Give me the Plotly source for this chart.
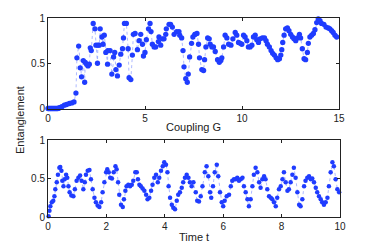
import plotly.graph_objects as go

# Top panel: entanglement vs coupling G
G = [0.00, 0.05, 0.10, 0.15, 0.20, 0.25, 0.30, 0.35, 0.40, 0.45, 0.50, 0.55, 0.58, 0.65,
     0.72, 0.84, 0.96, 1.10, 1.23, 1.34, 1.44, 1.49, 1.58, 1.66, 1.73, 1.82, 1.89, 1.92,
     1.99, 2.06, 2.13, 2.18, 2.23, 2.33, 2.42, 2.47, 2.55, 2.57, 2.64, 2.69, 2.78, 2.84,
     2.90, 2.98, 3.07, 3.08, 3.20, 3.29, 3.38, 3.44, 3.50, 3.58, 3.67, 3.75, 3.84, 3.89,
     3.94, 4.04, 4.13, 4.18, 4.27, 4.35, 4.40, 4.49, 4.61, 4.70, 4.78, 4.87, 4.92, 5.00,
     5.07, 5.18, 5.26, 5.31, 5.38, 5.47, 5.55, 5.69, 5.72, 5.81, 5.90, 5.98, 6.07, 6.10,
     6.24, 6.32, 6.41, 6.50, 6.63, 6.75, 6.79, 6.89, 6.96, 7.01, 7.10, 7.18, 7.23, 7.30,
     7.40, 7.47, 7.57, 7.59, 7.68, 7.76, 7.81, 7.93, 8.02, 8.07, 8.14, 8.23, 8.31, 8.36,
     8.45, 8.53, 8.62, 8.74, 8.83, 8.91, 8.96, 9.05, 9.13, 9.22, 9.31, 9.43, 9.53, 9.65,
     9.73, 9.82, 9.91, 9.99, 10.08, 10.16, 10.25, 10.33, 10.42, 10.51, 10.59, 10.68,
     10.76, 10.85, 10.93, 11.05, 11.16, 11.24, 11.31, 11.41, 11.50, 11.58, 11.67, 11.76,
     11.84, 11.93, 12.00, 12.05, 12.10, 12.17, 12.25, 12.34, 12.42, 12.51, 12.60, 12.68,
     12.77, 12.85, 12.96, 13.02, 13.11, 13.20, 13.28, 13.37, 13.42, 13.50, 13.59, 13.68,
     13.76, 13.85, 13.93, 14.02, 14.10, 14.22, 14.33, 14.45, 14.53, 14.62, 14.70, 14.79,
     14.88]
E_G = [0.0, 0.0, 0.0, 0.0, 0.0, 0.0, 0.0, 0.0, 0.0, 0.0, 0.0, 0.003, 0.007, 0.012,
       0.02, 0.037, 0.044, 0.055, 0.062, 0.073, 0.17, 0.56, 0.69, 0.45, 0.35, 0.53, 0.29, 0.51,
       0.49, 0.47, 0.49, 0.67, 0.64, 0.94, 0.88, 0.70, 0.50, 0.70, 0.70, 0.88, 0.79, 0.71,
       0.81, 0.62, 0.49, 0.64, 0.64, 0.38, 0.57, 0.62, 0.43, 0.36, 0.48, 0.60, 0.66, 0.78,
       0.94, 0.94, 0.66, 0.34, 0.32, 0.59, 0.82, 0.83, 0.65, 0.75, 0.82, 0.71, 0.58, 0.62,
       0.76, 0.88, 0.94, 0.85, 0.71, 0.68, 0.68, 0.74, 0.79, 0.70, 0.77, 0.77, 0.82, 0.88,
       0.93, 0.93, 0.90, 0.82, 0.85, 0.85, 0.81, 0.78, 0.64, 0.46, 0.33, 0.29, 0.38, 0.57,
       0.72, 0.79, 0.82, 0.82, 0.83, 0.71, 0.56, 0.43, 0.42, 0.54, 0.68, 0.78, 0.77, 0.71,
       0.68, 0.68, 0.63, 0.54, 0.51, 0.53, 0.56, 0.68, 0.81, 0.78, 0.71, 0.70, 0.77, 0.84,
       0.81, 0.73, 0.72, 0.71, 0.81, 0.79, 0.75, 0.68, 0.68, 0.70, 0.79, 0.81,
       0.76, 0.73, 0.77, 0.78, 0.78, 0.75, 0.71, 0.68, 0.64, 0.61, 0.59, 0.56,
       0.54, 0.55, 0.59, 0.65, 0.73, 0.81, 0.88, 0.89, 0.86, 0.82, 0.79, 0.77,
       0.75, 0.78, 0.82, 0.78, 0.66, 0.55, 0.54, 0.62, 0.72, 0.79, 0.81, 0.83,
       0.87, 0.95, 0.99, 0.97, 0.94, 0.93, 0.90, 0.89, 0.88, 0.86, 0.84, 0.81,
       0.79]

# Bottom panel: entanglement vs time t
T = [0.02, 0.05, 0.08, 0.13, 0.18, 0.22, 0.25, 0.30, 0.34, 0.39, 0.42, 0.46, 0.49, 0.53,
     0.57, 0.62, 0.66, 0.70, 0.74, 0.80, 0.87, 0.92, 0.98, 1.04, 1.10, 1.15, 1.21, 1.26,
     1.30, 1.36, 1.42, 1.47, 1.53, 1.59, 1.64, 1.70, 1.76, 1.82, 1.87, 1.93, 1.99, 2.03,
     2.08, 2.13, 2.19, 2.25, 2.31, 2.35, 2.40, 2.44, 2.50, 2.56, 2.60, 2.65, 2.69, 2.75,
     2.81, 2.87, 2.92, 2.99, 3.04, 3.08, 3.13, 3.18, 3.24, 3.30, 3.36, 3.41, 3.47, 3.53,
     3.58, 3.64, 3.70, 3.76, 3.81, 3.87, 3.93, 3.98, 4.04, 4.09, 4.13, 4.18, 4.24, 4.29,
     4.35, 4.41, 4.46, 4.52, 4.58, 4.63, 4.69, 4.75, 4.81, 4.86, 4.92, 4.98,
     5.06, 5.11, 5.17, 5.23, 5.29, 5.37, 5.43, 5.49, 5.55, 5.59, 5.65, 5.71, 5.78, 5.83,
     5.89, 5.95, 6.00, 6.05, 6.12, 6.20, 6.26, 6.31, 6.37, 6.43, 6.48, 6.54, 6.60, 6.66,
     6.71, 6.77, 6.83, 6.88, 6.94, 7.00, 7.05, 7.11, 7.17, 7.23, 7.28, 7.34, 7.40, 7.45,
     7.51, 7.57, 7.63, 7.68, 7.74, 7.80, 7.85, 7.91, 7.97, 8.03, 8.08, 8.14, 8.20, 8.25,
     8.31, 8.37, 8.42, 8.48, 8.54, 8.60, 8.65, 8.71, 8.77, 8.82, 8.88, 8.94, 9.00, 9.05,
     9.11, 9.17, 9.22, 9.28, 9.34, 9.39, 9.45, 9.51, 9.57, 9.62, 9.68, 9.74, 9.79, 9.85,
     9.91, 9.97]
E_T = [0.01, 0.08, 0.14, 0.19, 0.21, 0.27, 0.36, 0.45, 0.55, 0.64, 0.65, 0.60, 0.47, 0.40,
       0.49, 0.55, 0.51, 0.40, 0.32, 0.28, 0.27, 0.36, 0.47, 0.51, 0.54, 0.47, 0.36, 0.45,
       0.55, 0.60, 0.61, 0.49, 0.36, 0.25, 0.19, 0.15, 0.13, 0.19, 0.32, 0.45, 0.58, 0.62,
       0.58, 0.51, 0.50, 0.58, 0.66, 0.62, 0.45, 0.29, 0.16, 0.13, 0.23, 0.34, 0.40, 0.42,
       0.40, 0.42, 0.47, 0.58, 0.58, 0.49, 0.42, 0.40, 0.37, 0.34, 0.29, 0.23, 0.25, 0.34,
       0.42, 0.51, 0.55, 0.45, 0.51, 0.60, 0.66, 0.71, 0.68, 0.58, 0.40, 0.25, 0.16, 0.12,
       0.10, 0.21, 0.29, 0.32, 0.38, 0.45, 0.51, 0.55, 0.51, 0.45, 0.40, 0.45,
       0.32, 0.21, 0.20, 0.27, 0.40, 0.58, 0.66, 0.53, 0.32, 0.25, 0.40, 0.58, 0.68, 0.53,
       0.32, 0.19, 0.14, 0.21, 0.27, 0.29, 0.40, 0.47, 0.49, 0.49, 0.51, 0.47, 0.49, 0.51,
       0.40, 0.32, 0.23, 0.14, 0.23, 0.40, 0.55, 0.64, 0.58, 0.45, 0.38, 0.49, 0.53, 0.49,
       0.36, 0.27, 0.25, 0.23, 0.19, 0.14, 0.25, 0.36, 0.40, 0.49, 0.58, 0.45, 0.34, 0.36,
       0.45, 0.55, 0.64, 0.51, 0.32, 0.16, 0.14, 0.23, 0.40, 0.47, 0.51, 0.53, 0.49, 0.50,
       0.45, 0.38, 0.32, 0.27, 0.23, 0.19, 0.16, 0.19, 0.25, 0.40, 0.58, 0.71, 0.66, 0.49,
       0.36, 0.32]

BLUE = "#1f3cff"
LINE = "rgba(120,140,255,0.6)"
FONT = "Liberation Sans, Arial, sans-serif"

# The page body has an 8px margin, so the figure starts at page pixel (8, 8).
OFF = 8
W, H = 374 - OFF, 249 - OFF


def px(x):
    return (x - OFF) / W


def py(y):
    return 1 - (y - OFF) / H


fig = go.Figure()
fig.add_trace(go.Scatter(x=G, y=E_G, mode="lines+markers", xaxis="x", yaxis="y",
                         line=dict(color=LINE, width=1, dash="dot"),
                         marker=dict(color=BLUE, size=5.3, line=dict(width=0)),
                         showlegend=False, cliponaxis=False))
fig.add_trace(go.Scatter(x=T, y=E_T, mode="lines+markers", xaxis="x2", yaxis="y2",
                         line=dict(color=LINE, width=1, dash="dot"),
                         marker=dict(color=BLUE, size=4.5, line=dict(width=0)),
                         showlegend=False, cliponaxis=False))

ax_common = dict(showline=True, linecolor="#222", linewidth=1, mirror="ticks",
                 ticks="inside", ticklen=3, tickcolor="#222", showgrid=False,
                 zeroline=False, automargin=False,
                 tickfont=dict(family=FONT, size=10, color="#222"))

fig.update_layout(
    width=W, height=H,
    margin=dict(l=0, r=0, t=0, b=0, pad=0, autoexpand=False),
    paper_bgcolor="white", plot_bgcolor="white",
    font=dict(family=FONT, size=10, color="#222"),
    xaxis=dict(domain=[px(48), px(339)], range=[0, 15], tickvals=[0, 5, 10, 15],
               anchor="y", **ax_common),
    yaxis=dict(domain=[py(108.5), py(18)], range=[0, 1], tickvals=[0, 0.5, 1],
               ticktext=["0", "0.5", "1"], anchor="x", **ax_common),
    xaxis2=dict(domain=[px(48), px(340)], range=[0, 10], tickvals=[0, 2, 4, 6, 8, 10],
                anchor="y2", **ax_common),
    yaxis2=dict(domain=[py(217), py(140)], range=[0, 1], tickvals=[0, 0.5, 1],
                ticktext=["0", "0.5", "1"], anchor="x2", **ax_common),
    annotations=[
        dict(text="Coupling G", x=px((48+339)/2), y=py(127), xref="paper", yref="paper",
             showarrow=False, font=dict(family=FONT, size=11, color="#222"),
             xanchor="center", yanchor="middle"),
        dict(text="Time t", x=px((48+340)/2), y=py(237), xref="paper", yref="paper",
             showarrow=False, font=dict(family=FONT, size=11, color="#222"),
             xanchor="center", yanchor="middle"),
        dict(text="Entanglement", x=px(20), y=py(120), xref="paper", yref="paper",
             showarrow=False, textangle=-90, font=dict(family=FONT, size=11, color="#222"),
             xanchor="center", yanchor="middle"),
    ],
)

fig.write_html("out.html")
